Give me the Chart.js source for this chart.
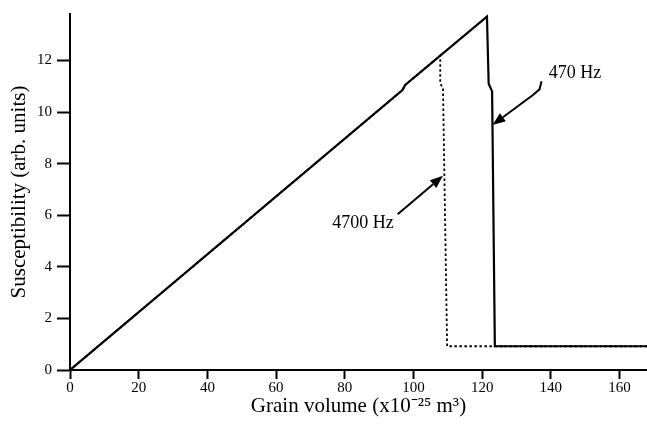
<!DOCTYPE html>
<html><head><meta charset="utf-8">
<script src="https://cdn.jsdelivr.net/npm/chart.js@4/dist/chart.umd.min.js"></script>
<style>html,body{margin:0;padding:0;background:#fff}#wrap{width:647px;height:433px}</style>
</head><body><div id="wrap"><canvas id="c" width="647" height="433"></canvas></div>
<script>
// Grain volume (x10^-25 m^3) and susceptibility (arb. units)
const volume470 = [0, 96.8, 97.6, 121.4, 121.9, 122.9, 123.7, 168];
const chi470    = [0, 10.85, 11.05, 13.7, 11.1, 10.8, 0.92, 0.92];
const volume4700 = [0, 96.8, 97.6, 107.8, 107.8, 108.6, 109.8, 168];
const chi4700    = [0, 10.85, 11.05, 12.19, 11.1, 10.92, 0.92, 0.92];
const xTickValues = [0, 20, 40, 60, 80, 100, 120, 140, 160];
const yTickValues = [0, 2, 4, 6, 8, 10, 12];
const seriesLabels = ['470 Hz', '4700 Hz'];
const xTitle = 'Grain volume (x10\u207B\u00B2\u2075 m\u00B3)';
const yTitle = 'Susceptibility (arb. units)';

// annotation anchors in data units
const notes = [
  {text: seriesLabels[0], at: [147, 11.5], arrow: [[137.3, 11.19], [136.7, 10.88], [134.7, 10.65], [123.0, 9.5]]},
  {text: seriesLabels[1], at: [85.3, 5.69], arrow: [[95.4, 6.04], [108.6, 7.53]]}
];

const toXY = (xs, ys) => xs.map((x, i) => ({x, y: ys[i]}));
const serif = '"Liberation Serif", "Times New Roman", serif';

const annotationPlugin = {
  id: 'notes',
  afterDatasetsDraw(chart) {
    const {ctx, scales: {x, y}} = chart;
    ctx.save();
    ctx.fillStyle = '#000';
    ctx.strokeStyle = '#000';
    ctx.font = '18px ' + serif;
    ctx.textAlign = 'center';
    ctx.textBaseline = 'middle';
    notes.forEach(n => {
      ctx.fillText(n.text, x.getPixelForValue(n.at[0]), y.getPixelForValue(n.at[1]));
      const pts = n.arrow.map(p => [x.getPixelForValue(p[0]), y.getPixelForValue(p[1])]);
      const tip = pts[pts.length - 1], prev = pts[pts.length - 2];
      const ang = Math.atan2(tip[1] - prev[1], tip[0] - prev[0]);
      const hl = 13, hw = 5;
      const bx = tip[0] - hl * Math.cos(ang), by = tip[1] - hl * Math.sin(ang);
      ctx.lineWidth = 2;
      ctx.beginPath();
      ctx.moveTo(pts[0][0], pts[0][1]);
      for (let i = 1; i < pts.length - 1; i++) ctx.lineTo(pts[i][0], pts[i][1]);
      ctx.lineTo(bx, by);
      ctx.stroke();
      ctx.beginPath();
      ctx.moveTo(tip[0], tip[1]);
      ctx.lineTo(bx + hw * Math.sin(ang), by - hw * Math.cos(ang));
      ctx.lineTo(bx - hw * Math.sin(ang), by + hw * Math.cos(ang));
      ctx.closePath();
      ctx.fill();
    });
    ctx.restore();
  }
};

new Chart(document.getElementById('c'), {
  type: 'line',
  data: {
    datasets: [
      {label: seriesLabels[1], data: toXY(volume4700, chi4700), borderColor: '#000', borderWidth: 1.8,
       borderDash: [2.5, 2.5], pointRadius: 0, tension: 0, fill: false},
      {label: seriesLabels[0], data: toXY(volume470, chi470), borderColor: '#000', borderWidth: 2.2,
       pointRadius: 0, tension: 0, fill: false}
    ]
  },
  options: {
    responsive: false,
    animation: false,
    devicePixelRatio: 1,
    layout: {padding: {top: 10, right: 0, left: 0, bottom: 0}},
    plugins: {legend: {display: false}, tooltip: {enabled: false}},
    scales: {
      x: {
        type: 'linear', min: 0, max: 168,
        afterBuildTicks: s => { s.ticks = xTickValues.map(v => ({value: v})); },
        afterFit: s => { s.height = 63; },
        border: {display: true, color: '#000', width: 2},
        grid: {display: true, drawOnChartArea: false, drawTicks: true, tickLength: 9, tickWidth: 2, tickColor: '#000'},
        ticks: {color: '#000', font: {family: serif, size: 15}, padding: 0, maxRotation: 0},
        title: {display: true, text: xTitle, color: '#000', font: {family: serif, size: 21}, padding: {top: 0, bottom: 14}}
      },
      y: {
        type: 'linear', min: 0, max: 13.8,
        afterBuildTicks: s => { s.ticks = yTickValues.map(v => ({value: v})); },
        afterFit: s => { s.width = 70; },
        border: {display: true, color: '#000', width: 2},
        grid: {display: true, drawOnChartArea: false, drawTicks: true, tickLength: 13, tickWidth: 2, tickColor: '#000'},
        ticks: {color: '#000', font: {family: serif, size: 15}, padding: 5},
        title: {display: true, text: yTitle, color: '#000', font: {family: serif, size: 21}, padding: {top: 7, bottom: 0}}
      }
    }
  },
  plugins: [annotationPlugin]
});
</script></body></html>
